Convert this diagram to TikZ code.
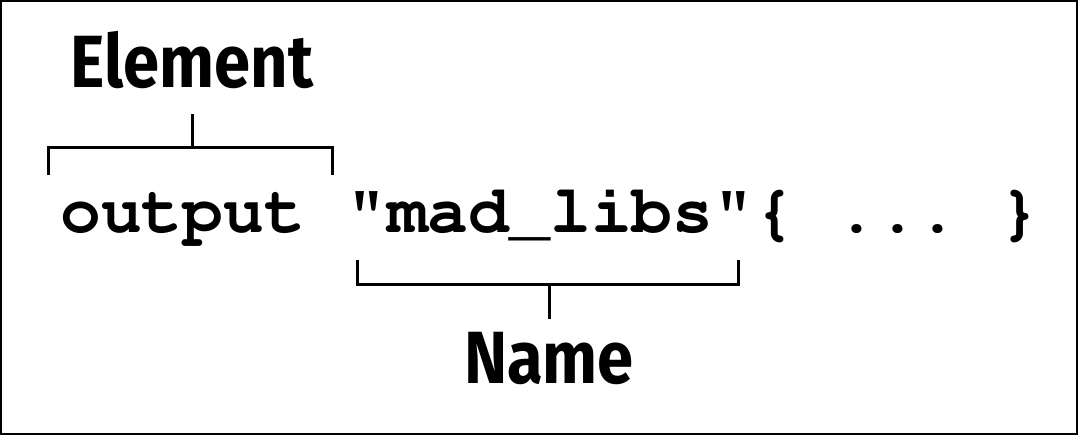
\documentclass[tikz,border=0pt]{standalone}
\usepackage[T1]{fontenc}
\usepackage{fontspec}
\newfontfamily\tagfont[FakeStretch=0.88]{Fira Sans}
\usetikzlibrary{positioning}

\begin{document}
\begin{tikzpicture}[x=1pt,y=-1pt,
	code/.style={inner sep=0pt,anchor=base west,font=\fontsize{68}{70}\fontencoding{T1}\fontfamily{pcr}\fontseries{b}\selectfont\frenchspacing},
	tag/.style={inner sep=0pt,anchor=base,font=\fontsize{74}{76}\selectfont\tagfont\bfseries},
	bracket/.style={line width=3pt}]
	\useasboundingbox (0,0) rectangle (1078,435);
	\draw[line width=2pt] (1,1) rectangle (1077,434);
	\node[code] (kw) at (60,233) {output};
	\node[code] (nm) at ([xshift=40.8pt]kw.base east) {"mad\_libs"};
	\node[code] (body) at (nm.base east) {\{ ... \}};
	\node[tag] (elem) at (192,88) {Element};
	\node[tag] (name) at (549,383) {Name};
	\draw[bracket] (elem.south) ++(0,25) -- ++(0,33) coordinate (ejoin);
	\draw[bracket] (48,175) |- (ejoin) -| (332,175);
	\draw[bracket] (name.north) ++(0,-13) -- ++(0,-34) coordinate (njoin);
	\draw[bracket] (357,260) |- (njoin) -| (738,260);
\end{tikzpicture}
\end{document}
